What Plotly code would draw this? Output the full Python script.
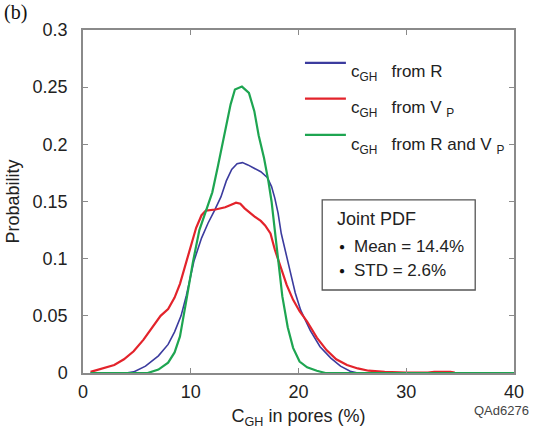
import plotly.graph_objects as go

# ---------------- data ----------------
x_r = [0.7, 4.0, 4.7, 5.8, 7.0, 7.9, 8.5, 9.1, 9.6, 10.3, 11.0, 11.6, 12.2, 12.8, 13.3, 13.8,
       14.3, 14.8, 15.3, 15.9, 16.5, 17.1, 17.5, 17.8, 18.1, 18.4, 18.8, 19.2, 19.7, 20.2,
       21.1, 22.0, 23.0, 23.9, 24.8, 25.5, 40]
p_r = [0, 0, 0.001, 0.006, 0.015, 0.025, 0.036, 0.050, 0.068, 0.098, 0.118, 0.131, 0.142,
       0.154, 0.168, 0.178, 0.183, 0.184, 0.182, 0.179, 0.176, 0.171, 0.163, 0.153, 0.140,
       0.122, 0.105, 0.090, 0.070, 0.055, 0.037, 0.023, 0.013, 0.006, 0.0015, 0, 0]

x_vp = [0.7, 1.7, 2.9, 3.8, 4.7, 5.6, 6.4, 7.2, 7.9, 8.5, 9.0, 9.6, 10.1, 10.5, 11.0, 11.4,
        12.3, 13.2, 13.7, 14.2, 14.6, 15.0, 15.9, 16.5, 16.9, 17.4, 17.8, 18.3, 18.9, 19.5,
        20.1, 20.8, 21.7, 22.6, 23.5, 24.5, 25.5, 26.5, 28, 30, 32, 32.6, 33.3, 34.1, 34.5]
p_vp = [0.001, 0.0035, 0.007, 0.012, 0.019, 0.029, 0.040, 0.050, 0.056, 0.066, 0.078, 0.098,
        0.113, 0.127, 0.138, 0.142, 0.143, 0.145, 0.147, 0.149, 0.148, 0.144, 0.137, 0.133,
        0.129, 0.122, 0.108, 0.093, 0.077, 0.064, 0.054, 0.045, 0.031, 0.020, 0.012, 0.007,
        0.004, 0.002, 0.001, 0.0004, 0.0003, 0.001, 0.0012, 0.001, 0.0003]

x_rvp = [0.7, 6.0, 7.0, 7.9, 8.5, 9.0, 9.6, 10.2, 10.8, 11.4, 12.0, 12.5, 13.1, 13.7, 14.1,
         14.75, 15.4, 15.9, 16.3, 16.8, 17.2, 17.5, 17.8, 18.1, 18.5, 19.0, 19.5, 20.1, 20.8,
         21.7, 22.5, 40]
p_rvp = [0, 0, 0.003, 0.009, 0.018, 0.032, 0.064, 0.097, 0.125, 0.142, 0.158, 0.180, 0.208,
         0.235, 0.248, 0.2505, 0.245, 0.229, 0.208, 0.188, 0.168, 0.150, 0.125, 0.098, 0.067,
         0.040, 0.022, 0.010, 0.005, 0.002, 0, 0]

x_ticks = [0, 10, 20, 30, 40]
y_ticks = [0, 0.05, 0.1, 0.15, 0.2, 0.25, 0.3]
y_ticklabels = ["0", "0.05", "0.1", "0.15", "0.2", "0.25", "0.3"]

series_names = ["c<sub>GH</sub>   from R", "c<sub>GH</sub>   from V <sub>P</sub>",
                "c<sub>GH</sub>   from R and V <sub>P</sub>"]
colors = ["#3b3b9e", "#e3232b", "#1ea551"]

# ---------------- figure ----------------
fig = go.Figure()
for xs, ys, c, w in [(x_r, p_r, colors[0], 1.6), (x_vp, p_vp, colors[1], 2.2),
                     (x_rvp, p_rvp, colors[2], 2.2)]:
    fig.add_trace(go.Scatter(x=xs, y=ys, mode="lines", line=dict(color=c, width=w),
                             showlegend=False, hoverinfo="skip"))

FONT = "Liberation Sans, Arial, sans-serif"
axis_common = dict(showline=True, linecolor="#8a8a8a", linewidth=1.5, mirror="ticks",
                   ticks="inside", ticklen=5, tickcolor="#8a8a8a", showgrid=False,
                   zeroline=False, tickfont=dict(family=FONT, size=18, color="#222"))

fig.update_layout(
    width=544, height=438,
    margin=dict(l=83, r=30, t=30, b=65),
    paper_bgcolor="white", plot_bgcolor="white",
    xaxis=dict(range=[0, 40], tickvals=x_ticks, **axis_common, ticklabelstandoff=2,
               title=dict(text="C<sub>GH</sub> in pores (%)",
                          font=dict(family=FONT, size=18, color="#222"), standoff=8)),
    yaxis=dict(range=[0, 0.3], tickvals=y_ticks, ticktext=y_ticklabels, **axis_common,
               ticklabelstandoff=10,
               title=dict(text="Probability", font=dict(family=FONT, size=18, color="#222"),
                          standoff=8)),
)

# legend (manual)
leg_line_y = [0.904, 0.8, 0.694]
leg_text_y = [0.875, 0.77, 0.662]
for i in range(3):
    fig.add_shape(type="line", xref="paper", yref="paper", x0=0.515, x1=0.61,
                  y0=leg_line_y[i], y1=leg_line_y[i], line=dict(color=colors[i], width=2.2))
    fig.add_annotation(xref="paper", yref="paper", x=0.618, y=leg_text_y[i],
                       xanchor="left", yanchor="middle", showarrow=False,
                       text=series_names[i], font=dict(family=FONT, size=17, color="#222"))

# Joint PDF box
fig.add_shape(type="rect", xref="paper", yref="paper", x0=0.555, x1=0.91, y0=0.242, y1=0.505,
              line=dict(color="#555", width=1.3), fillcolor="white")
fig.add_annotation(xref="paper", yref="paper", x=0.585, y=0.45, xanchor="left",
                   yanchor="middle", showarrow=False, text="Joint PDF",
                   font=dict(family=FONT, size=18, color="#222"))
for yy, txt in [(0.368, "Mean = 14.4%"), (0.298, "STD = 2.6%")]:
    fig.add_annotation(xref="paper", yref="paper", x=0.59, y=yy, xanchor="left",
                       yanchor="middle", showarrow=False, text="●",
                       font=dict(family=FONT, size=10, color="#111"))
    fig.add_annotation(xref="paper", yref="paper", x=0.625, y=yy, xanchor="left",
                       yanchor="middle", showarrow=False, text=txt,
                       font=dict(family=FONT, size=17, color="#222"))

# panel label and figure code
fig.add_annotation(xref="paper", yref="paper", x=-0.188, y=1.052, xanchor="left",
                   yanchor="middle", showarrow=False, text="(b)",
                   font=dict(family="Liberation Serif, Times New Roman, serif", size=20,
                             color="#111"))
fig.add_annotation(xref="paper", yref="paper", x=1.04, y=-0.108, xanchor="right",
                   yanchor="middle", showarrow=False, text="QAd6276",
                   font=dict(family=FONT, size=13, color="#444"))

fig.write_html("out.html", config={"displayModeBar": False},
               post_script="document.body.style.margin='0';")
